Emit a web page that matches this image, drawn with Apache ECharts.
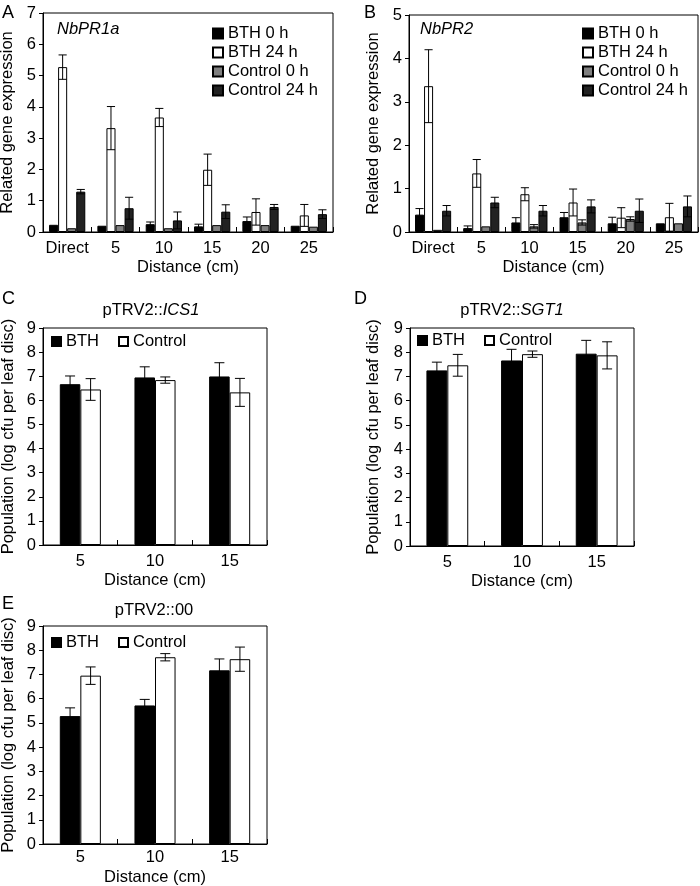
<!DOCTYPE html>
<html><head><meta charset="utf-8">
<script src="https://cdn.jsdelivr.net/npm/echarts@6/dist/echarts.min.js"></script>
<style>html,body{margin:0;padding:0;background:#fff}#c{width:700px;height:886px}</style>
</head><body><div id="c"></div>
<script>
// ---------- data ----------
const catsAB = ['Direct', '5', '10', '15', '20', '25'];
const catsCDE = ['5', '10', '15'];

// Panel A: NbPR1a
const pr1a_bth0 = [0.23, 0.20, 0.25, 0.18, 0.35, 0.20];
const pr1a_bth0_err = [0, 0, 0.07, 0.07, 0.13, 0];
const pr1a_bth24 = [5.27, 3.32, 3.66, 1.99, 0.64, 0.53];
const pr1a_bth24_err = [0.39, 0.69, 0.29, 0.50, 0.42, 0.35];
const pr1a_ctl0 = [0.12, 0.22, 0.12, 0.22, 0.22, 0.17];
const pr1a_ctl0_err = [0, 0, 0, 0, 0, 0];
const pr1a_ctl24 = [1.29, 0.76, 0.37, 0.65, 0.80, 0.57];
const pr1a_ctl24_err = [0.07, 0.35, 0.27, 0.22, 0.08, 0.14];

// Panel B: NbPR2
const pr2_bth0 = [0.40, 0.09, 0.22, 0.34, 0.20, 0.20];
const pr2_bth0_err = [0.14, 0.05, 0.11, 0.11, 0.14, 0];
const pr2_bth24 = [3.36, 1.35, 0.87, 0.68, 0.33, 0.34];
const pr2_bth24_err = [0.84, 0.32, 0.15, 0.31, 0.23, 0.32];
const pr2_ctl0 = [0.05, 0.13, 0.13, 0.22, 0.30, 0.20];
const pr2_ctl0_err = [0, 0, 0.04, 0.06, 0.05, 0];
const pr2_ctl24 = [0.49, 0.68, 0.49, 0.59, 0.49, 0.59];
const pr2_ctl24_err = [0.12, 0.12, 0.12, 0.15, 0.27, 0.24];

// Panel C: pTRV2::ICS1
const ics1_bth = [6.67, 6.95, 6.99];
const ics1_bth_err = [0.34, 0.44, 0.57];
const ics1_ctl = [6.45, 6.84, 6.33];
const ics1_ctl_err = [0.45, 0.13, 0.58];

// Panel D: pTRV2::SGT1
const sgt1_bth = [7.25, 7.66, 7.94];
const sgt1_bth_err = [0.34, 0.46, 0.55];
const sgt1_ctl = [7.46, 7.92, 7.87];
const sgt1_ctl_err = [0.45, 0.13, 0.56];

// Panel E: pTRV2::00
const vec_bth = [5.28, 5.72, 7.17];
const vec_bth_err = [0.34, 0.25, 0.47];
const vec_ctl = [6.95, 7.71, 7.63];
const vec_ctl_err = [0.36, 0.15, 0.50];

// ---------- styles ----------
const FONT = '"Liberation Sans", Arial, Helvetica, sans-serif';
const FS = 16.5;
const COL = {
  'BTH 0 h': '#000000', 'BTH 24 h': '#ffffff', 'Control 0 h': '#808080', 'Control 24 h': '#222222',
  'BTH': '#000000', 'Control': '#ffffff'
};

const panels = [
  { grid: { left: 43, top: 13, width: 290, height: 219 }, cats: catsAB, max: 7, yName: 'Related gene expression', nameGap: 27, gap: 0.25,
    legend: { left: 212, top: 25, orient: 'vertical', itemGap: 2, w: 10, h: 10 },
    series: [['BTH 0 h', pr1a_bth0, pr1a_bth0_err], ['BTH 24 h', pr1a_bth24, pr1a_bth24_err], ['Control 0 h', pr1a_ctl0, pr1a_ctl0_err], ['Control 24 h', pr1a_ctl24, pr1a_ctl24_err]] },
  { grid: { left: 409, top: 15, width: 289, height: 217 }, cats: catsAB, max: 5, yName: 'Related gene expression', nameGap: 27, gap: 0.25,
    legend: { left: 582, top: 25, orient: 'vertical', itemGap: 2, w: 10, h: 10 },
    series: [['BTH 0 h', pr2_bth0, pr2_bth0_err], ['BTH 24 h', pr2_bth24, pr2_bth24_err], ['Control 0 h', pr2_ctl0, pr2_ctl0_err], ['Control 24 h', pr2_ctl24, pr2_ctl24_err]] },
  { grid: { left: 43, top: 328, width: 224, height: 217 }, cats: catsCDE, max: 9, yName: 'Population (log cfu per leaf disc)', nameGap: 26, gap: 0.45,
    legend: { left: 51, top: 333, orient: 'horizontal', itemGap: 19, w: 9, h: 9 },
    series: [['BTH', ics1_bth, ics1_bth_err], ['Control', ics1_ctl, ics1_ctl_err]] },
  { grid: { left: 410, top: 328, width: 224, height: 218 }, cats: catsCDE, max: 9, yName: 'Population (log cfu per leaf disc)', nameGap: 28, gap: 0.44,
    legend: { left: 417, top: 332, orient: 'horizontal', itemGap: 19, w: 9, h: 9 },
    series: [['BTH', sgt1_bth, sgt1_bth_err], ['Control', sgt1_ctl, sgt1_ctl_err]] },
  { grid: { left: 43, top: 626, width: 224, height: 218 }, cats: catsCDE, max: 9, yName: 'Population (log cfu per leaf disc)', nameGap: 26, gap: 0.45,
    legend: { left: 51, top: 634, orient: 'horizontal', itemGap: 19, w: 9, h: 9 },
    series: [['BTH', vec_bth, vec_bth_err], ['Control', vec_ctl, vec_ctl_err]] }
];

const grids = [], xAxes = [], yAxes = [], series = [], legends = [];

panels.forEach((p, k) => {
  grids.push(Object.assign({ show: true, borderColor: '#000', borderWidth: 1, backgroundColor: 'transparent', containLabel: false, outerBoundsMode: 'none' }, p.grid));
  xAxes.push({
    type: 'category', gridIndex: k, data: p.cats,
    name: 'Distance (cm)', nameLocation: 'middle', nameGap: k === 4 ? 25 : 27,
    nameTextStyle: { fontFamily: FONT, fontSize: FS, color: '#000' },
    axisLine: { show: true, lineStyle: { color: '#000', width: 1 } },
    axisTick: { show: true, inside: true, length: 5, lineStyle: { color: '#000' } },
    axisLabel: { interval: 0, hideOverlap: false, fontFamily: FONT, fontSize: FS, color: '#000', margin: k === 4 ? 5 : 8 },
    splitLine: { show: false }
  });
  yAxes.push({
    type: 'value', gridIndex: k, min: 0, max: p.max, interval: 1,
    name: p.yName, nameLocation: 'middle', nameGap: p.nameGap, nameRotate: 90,
    nameTextStyle: { fontFamily: FONT, fontSize: FS, color: '#000' },
    axisLine: { show: true, lineStyle: { color: '#000', width: 1 } },
    axisTick: { show: true, inside: false, length: 4, lineStyle: { color: '#000' } },
    axisLabel: { fontFamily: FONT, fontSize: FS, color: '#000', margin: 7 },
    splitLine: { show: false }
  });
  const n = p.series.length;
  p.series.forEach(([name, vals], i) => {
    series.push({
      type: 'bar', name, xAxisIndex: k, yAxisIndex: k, data: vals,
      barGap: '0%', barCategoryGap: (p.gap * 100) + '%',
      itemStyle: { color: COL[name], borderColor: '#000', borderWidth: 1 },
      emphasis: { disabled: true }, silent: true, z: 2
    });
  });
  p.series.forEach(([name, vals, errs], i) => {
    series.push({
      type: 'custom', name: name + ' err', xAxisIndex: k, yAxisIndex: k, z: 5, silent: true,
      data: vals.map((v, j) => [j, v, errs[j]]),
      encode: { x: 0, y: 1 },
      renderItem: (params, api) => {
        const cat = api.value(0), v = api.value(1), e = api.value(2);
        if (!e) return null;
        const c = api.coord([cat, v]);
        const band = api.size([1, 0])[0];
        const tot = band * (1 - p.gap);
        const bw = tot / n;
        const x = c[0] - tot / 2 + (i + 0.5) * bw;
        const yt = api.coord([cat, v + e])[1];
        const yb = api.coord([cat, v - e])[1];
        const cw = Math.min(bw * 0.9, 10) / 2;
        const st = { stroke: '#000', lineWidth: 1 };
        return { type: 'group', children: [
          { type: 'line', shape: { x1: x, y1: yt, x2: x, y2: yb }, style: st },
          { type: 'line', shape: { x1: x - cw, y1: yt, x2: x + cw, y2: yt }, style: st },
          { type: 'line', shape: { x1: x - cw, y1: yb, x2: x + cw, y2: yb }, style: st }
        ] };
      }
    });
  });
  legends.push({
    show: true, selectedMode: false, orient: p.legend.orient, left: p.legend.left, top: p.legend.top,
    itemGap: p.legend.itemGap, itemWidth: p.legend.w, itemHeight: p.legend.h, padding: 0, icon: 'rect',
    data: p.series.map(s => s[0]),
    textStyle: { fontFamily: FONT, fontSize: FS, color: '#000' }
  });
});

const txt = (text, x, y, extra) => ({
  type: 'text', x, y, silent: true,
  style: Object.assign({ text, font: FS + 'px ' + FONT, fill: '#000', align: 'left', verticalAlign: 'middle' }, extra || {})
});
const titleRich = {
  n: { fontFamily: FONT, fontSize: FS, color: '#000' },
  i: { fontFamily: FONT, fontSize: FS, fontStyle: 'italic', color: '#000' }
};

const graphics = [
  txt('A', 2, 13, { font: '18px ' + FONT }),
  txt('B', 364, 13, { font: '18px ' + FONT }),
  txt('C', 2, 299, { font: '18px ' + FONT }),
  txt('D', 354, 299, { font: '18px ' + FONT }),
  txt('E', 2, 604, { font: '18px ' + FONT }),
  txt('NbPR1a', 57, 29, { font: 'italic ' + FS + 'px ' + FONT }),
  txt('NbPR2', 420, 29, { font: 'italic ' + FS + 'px ' + FONT }),
  { type: 'text', x: 151, y: 310, silent: true, style: { text: '{n|pTRV2::}{i|ICS1}', rich: titleRich, align: 'center', verticalAlign: 'middle' } },
  { type: 'text', x: 512, y: 310, silent: true, style: { text: '{n|pTRV2::}{i|SGT1}', rich: titleRich, align: 'center', verticalAlign: 'middle' } },
  { type: 'text', x: 154, y: 610, silent: true, style: { text: '{n|pTRV2::00}', rich: titleRich, align: 'center', verticalAlign: 'middle' } }
];

const chart = echarts.init(document.getElementById('c'), null, { renderer: 'canvas', width: 700, height: 886 });
chart.setOption({
  animation: false,
  backgroundColor: '#fff',
  textStyle: { fontFamily: FONT },
  grid: grids, xAxis: xAxes, yAxis: yAxes, legend: legends, series, graphic: graphics
});
</script></body></html>
